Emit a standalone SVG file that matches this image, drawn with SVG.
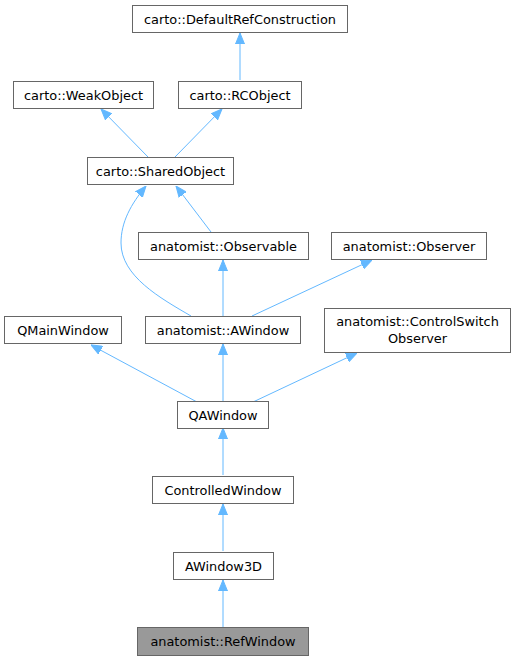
<svg xmlns="http://www.w3.org/2000/svg" width="516" height="661" viewBox="0 0 516 661">
<style>
.n rect{fill:#fff;stroke:#666;stroke-width:1}
.n.h rect{fill:#999}
.n text{font-family:"DejaVu Sans",sans-serif;font-size:12.9px;fill:#000;text-anchor:middle}
.e path{fill:none;stroke:#63b8ff;stroke-width:1;marker-end:url(#a)}
</style>
<defs>
<marker id="a" markerUnits="userSpaceOnUse" viewBox="0 -5 11 10" refX="11" refY="0" markerWidth="11" markerHeight="10" orient="auto">
<path d="M0,-4.5 L11,0 L0,4.5 z" fill="#63b8ff" stroke="#63b8ff"/>
</marker>
</defs>
<g class="e">
<path d="M240,80 L240,33"/>
<path d="M148,157 L101,109"/>
<path d="M175,157 L222,109"/>
<path d="M211,232 L176,186"/>
<path d="M191,316 C160,298 121,276 121,243 C121,222 131,204 146,186"/>
<path d="M223,316 L223,260"/>
<path d="M252,316 L372,260"/>
<path d="M197,402 L91,345"/>
<path d="M223,402 L223,344"/>
<path d="M253,402 L357,353"/>
<path d="M223,475 L223,428"/>
<path d="M223,551 L223,504"/>
<path d="M223,627 L223,580"/>
</g>
<g id="DefaultRefConstruction" class="n"><rect x="132.5" y="5.5" width="215" height="27"/><text x="240" y="23.5">carto::DefaultRefConstruction</text></g>
<g id="WeakObject" class="n"><rect x="13.5" y="81.5" width="140" height="27"/><text x="83.5" y="99.5">carto::WeakObject</text></g>
<g id="RCObject" class="n"><rect x="178.5" y="81.5" width="123" height="27"/><text x="240" y="99.5">carto::RCObject</text></g>
<g id="SharedObject" class="n"><rect x="87.5" y="157.5" width="146" height="27"/><text x="160.5" y="175.5">carto::SharedObject</text></g>
<g id="Observable" class="n"><rect x="138.5" y="232.5" width="170" height="27"/><text x="223.5" y="250.5">anatomist::Observable</text></g>
<g id="Observer" class="n"><rect x="331.5" y="232.5" width="155" height="27"/><text x="409" y="250.5">anatomist::Observer</text></g>
<g id="QMainWindow" class="n"><rect x="4.5" y="316.5" width="117" height="27"/><text x="63" y="334.5">QMainWindow</text></g>
<g id="AWindow" class="n"><rect x="145.5" y="316.5" width="155" height="27"/><text x="223" y="334.5">anatomist::AWindow</text></g>
<g id="ControlSwitchObserver" class="n"><rect x="324.5" y="308.5" width="186" height="44"/><text x="417.5" y="326">anatomist::ControlSwitch</text><text x="417.5" y="343">Observer</text></g>
<g id="QAWindow" class="n"><rect x="177.5" y="401.5" width="91" height="27"/><text x="223" y="419.5">QAWindow</text></g>
<g id="ControlledWindow" class="n"><rect x="152.5" y="476.5" width="141" height="27"/><text x="223" y="494.5">ControlledWindow</text></g>
<g id="AWindow3D" class="n"><rect x="173.5" y="552.5" width="100" height="27"/><text x="223.5" y="570.5">AWindow3D</text></g>
<g id="RefWindow" class="n h"><rect x="137.5" y="627.5" width="171" height="28"/><text x="223" y="645.5">anatomist::RefWindow</text></g>
</svg>
